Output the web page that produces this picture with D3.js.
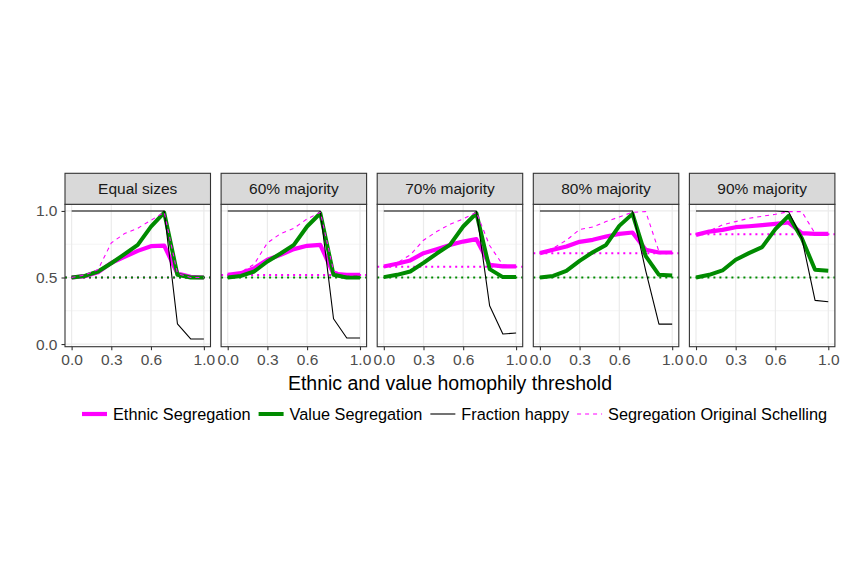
<!DOCTYPE html>
<html>
<head>
<meta charset="utf-8">
<script src="https://cdn.jsdelivr.net/npm/d3@7"></script>
<style>
  body { margin: 0; background: #fff; }
  text { font-family: "Liberation Sans", Arial, sans-serif; }
</style>
</head>
<body>
<div id="vis"></div>
<script>
// data
var panels = ["Equal sizes", "60% majority", "70% majority", "80% majority", "90% majority"];
var thresholds = [0, 0.1, 0.2, 0.3, 0.4, 0.5, 0.6, 0.7, 0.8, 0.9, 1.0];
var xTicks = [0, 0.3, 0.6, 1.0];
var yTicks = [0, 0.5, 1.0];
var yMinor = [0.25, 0.75];

var ethnicSeg = [
  [0.50, 0.51, 0.54, 0.61, 0.655, 0.70, 0.735, 0.74, 0.53, 0.505, 0.50],
  [0.52, 0.533, 0.57, 0.633, 0.67, 0.713, 0.738, 0.745, 0.528, 0.52, 0.52],
  [0.583, 0.603, 0.628, 0.683, 0.713, 0.745, 0.77, 0.788, 0.595, 0.583, 0.583],
  [0.683, 0.708, 0.733, 0.768, 0.783, 0.808, 0.828, 0.838, 0.708, 0.688, 0.688],
  [0.82, 0.845, 0.858, 0.878, 0.885, 0.893, 0.903, 0.913, 0.833, 0.828, 0.828]
];
var valueSeg = [
  [0.50, 0.512, 0.545, 0.607, 0.675, 0.745, 0.882, 0.988, 0.52, 0.50, 0.50],
  [0.50, 0.512, 0.545, 0.62, 0.68, 0.745, 0.883, 0.983, 0.52, 0.50, 0.50],
  [0.503, 0.52, 0.545, 0.61, 0.68, 0.745, 0.883, 0.983, 0.563, 0.503, 0.503],
  [0.50, 0.512, 0.55, 0.625, 0.69, 0.745, 0.888, 0.978, 0.66, 0.52, 0.515],
  [0.50, 0.52, 0.553, 0.633, 0.683, 0.728, 0.863, 0.963, 0.795, 0.558, 0.55]
];
var fractionHappy = [
  [1, 1, 1, 1, 1, 1, 1, 1, 0.152, 0.038, 0.038],
  [1, 1, 1, 1, 1, 1, 1, 1, 0.19, 0.045, 0.045],
  [1, 1, 1, 1, 1, 1, 1, 1, 0.288, 0.075, 0.083],
  [1, 1, 1, 1, 1, 1, 1, 1, 0.55, 0.15, 0.15],
  [1, 1, 1, 1, 1, 1, 1, 0.995, 0.795, 0.328, 0.318]
];
var originalSchelling = [
  [0.50, 0.52, 0.56, 0.76, 0.83, 0.87, 0.93, 0.99, 0.53, 0.50, 0.50],
  [0.52, 0.54, 0.60, 0.76, 0.83, 0.87, 0.94, 0.99, 0.55, 0.52, 0.52],
  [0.583, 0.61, 0.67, 0.78, 0.845, 0.90, 0.94, 0.99, 0.74, 0.595, 0.583],
  [0.683, 0.72, 0.78, 0.86, 0.88, 0.92, 0.955, 0.99, 0.995, 0.695, 0.69],
  [0.82, 0.85, 0.895, 0.92, 0.945, 0.96, 0.975, 0.995, 0.995, 0.83, 0.825]
];
var ethnicBaseline = [0.5, 0.518, 0.58, 0.683, 0.825];
var valueBaseline = [0.5, 0.5, 0.5, 0.5, 0.5];

var series = [
  { name: "Ethnic Segregation", values: ethnicSeg, color: "#FF00FF", width: 4.2, dash: null },
  { name: "Value Segregation", values: valueSeg, color: "#008B00", width: 4, dash: null },
  { name: "Fraction happy", values: fractionHappy, color: "#000000", width: 1.1, dash: null },
  { name: "Segregation Original Schelling", values: originalSchelling, color: "#FF00FF", width: 1.1, dash: "4,4" }
];

var W = 845, H = 585;
var panelLeft = 65, panelW = 145.5, panelStep = 156.1;
var stripTop = 173.3, panelTop = 204.3, panelBottom = 346.7;
var fontFam = '"Liberation Sans", Arial, sans-serif';

var svg = d3.select("#vis").append("svg")
  .attr("width", W)
  .attr("height", H);

var y = d3.scaleLinear().domain([-0.02, 1.05]).range([panelBottom, panelTop]);

panels.forEach(function(label, i) {
  var x0 = panelLeft + i * panelStep;
  var x = d3.scaleLinear().domain([-0.05, 1.05]).range([x0, x0 + panelW]);
  var g = svg.append("g");

  // grid
  g.selectAll(".minor").data(yMinor).enter().append("line")
    .attr("x1", x0).attr("x2", x0 + panelW)
    .attr("y1", function(d) { return y(d); }).attr("y2", function(d) { return y(d); })
    .attr("stroke", "#EBEBEB").attr("stroke-width", 0.6);
  g.selectAll(".hmajor").data(yTicks).enter().append("line")
    .attr("x1", x0).attr("x2", x0 + panelW)
    .attr("y1", function(d) { return y(d); }).attr("y2", function(d) { return y(d); })
    .attr("stroke", "#EBEBEB").attr("stroke-width", 1.2);
  g.selectAll(".vmajor").data(xTicks).enter().append("line")
    .attr("y1", panelTop).attr("y2", panelBottom)
    .attr("x1", function(d) { return x(d); }).attr("x2", function(d) { return x(d); })
    .attr("stroke", "#EBEBEB").attr("stroke-width", 1.2);

  // baselines
  g.append("line")
    .attr("x1", x0).attr("x2", x0 + panelW)
    .attr("y1", y(ethnicBaseline[i])).attr("y2", y(ethnicBaseline[i]))
    .attr("stroke", "#FF00FF").attr("stroke-width", 2).attr("stroke-dasharray", "2,4");
  g.append("line")
    .attr("x1", x0).attr("x2", x0 + panelW)
    .attr("y1", y(valueBaseline[i])).attr("y2", y(valueBaseline[i]))
    .attr("stroke", "#008B00").attr("stroke-width", 2).attr("stroke-dasharray", "2,4");

  var line = d3.line()
    .x(function(d, j) { return x(thresholds[j]); })
    .y(function(d) { return y(d); });

  series.forEach(function(s) {
    g.append("path")
      .attr("d", line(s.values[i]))
      .attr("fill", "none")
      .attr("stroke", s.color)
      .attr("stroke-width", s.width)
      .attr("stroke-linejoin", "round")
      .attr("stroke-dasharray", s.dash);
  });

  // border
  g.append("rect")
    .attr("x", x0).attr("y", panelTop)
    .attr("width", panelW).attr("height", panelBottom - panelTop)
    .attr("fill", "none").attr("stroke", "#333333").attr("stroke-width", 1.1);

  // strip
  g.append("rect")
    .attr("x", x0).attr("y", stripTop)
    .attr("width", panelW).attr("height", panelTop - stripTop)
    .attr("fill", "#D9D9D9").attr("stroke", "#333333").attr("stroke-width", 1.1);
  g.append("text")
    .attr("x", x0 + panelW / 2).attr("y", (stripTop + panelTop) / 2 + 5.5)
    .attr("text-anchor", "middle")
    .style("font-size", "15.5px").attr("fill", "#1A1A1A")
    .text(label);

  // x axis
  var xAxis = d3.axisBottom(x).tickValues(xTicks).tickSize(3.5).tickPadding(4)
    .tickFormat(d3.format(".1f"));
  var ax = g.append("g").attr("transform", "translate(0," + panelBottom + ")").call(xAxis);
  ax.select(".domain").remove();
  ax.selectAll("line").attr("stroke", "#333333").attr("stroke-width", 1.1);
  ax.selectAll("text").attr("fill", "#4D4D4D").style("font-size", "15.5px").style("font-family", fontFam);

  if (i === 0) {
    var yAxis = d3.axisLeft(y).tickValues(yTicks).tickSize(3.5).tickPadding(4)
      .tickFormat(d3.format(".1f"));
    var ay = g.append("g").attr("transform", "translate(" + x0 + ",0)").call(yAxis);
    ay.select(".domain").remove();
    ay.selectAll("line").attr("stroke", "#333333").attr("stroke-width", 1.1);
    ay.selectAll("text").attr("fill", "#4D4D4D").style("font-size", "15.5px").style("font-family", fontFam);
  }
});

// axis title
svg.append("text")
  .attr("x", panelLeft + (4 * panelStep + panelW) / 2)
  .attr("y", 390)
  .attr("text-anchor", "middle")
  .style("font-size", "19.5px")
  .attr("fill", "#000")
  .text("Ethnic and value homophily threshold");

// legend
var legend = svg.append("g");
var cursor = 82, legendY = 414;
series.forEach(function(s) {
  legend.append("line")
    .attr("x1", cursor).attr("x2", cursor + 25)
    .attr("y1", legendY).attr("y2", legendY)
    .attr("stroke", s.color)
    .attr("stroke-width", s.width)
    .attr("stroke-dasharray", s.dash);
  var t = legend.append("text")
    .attr("x", cursor + 31).attr("y", legendY + 5.8)
    .style("font-size", "16.3px")
    .attr("fill", "#000")
    .text(s.name);
  cursor += 31 + t.node().getComputedTextLength() + 8;
});
</script>
</body>
</html>
